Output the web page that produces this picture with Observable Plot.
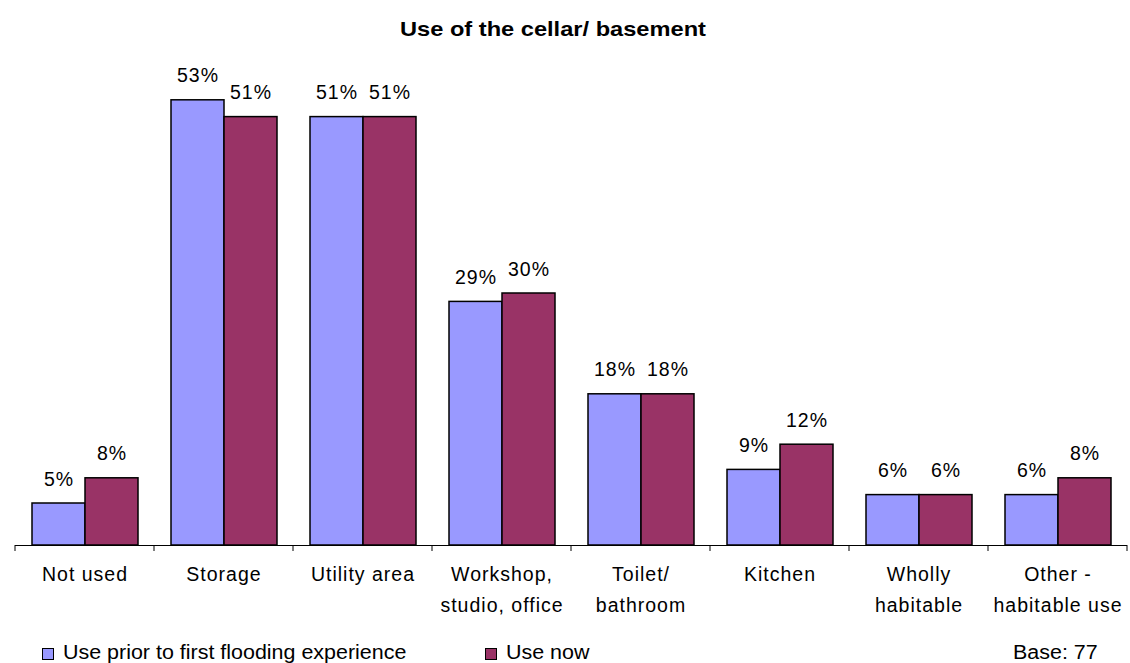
<!DOCTYPE html>
<html>
<head>
<meta charset="utf-8">
<script src="https://cdn.jsdelivr.net/npm/d3@7"></script>
<script src="https://cdn.jsdelivr.net/npm/@observablehq/plot@0.6"></script>
<style>
  html, body { margin: 0; padding: 0; background: #fff; }
  body { position: relative; width: 1130px; height: 663px; overflow: hidden; font-family: "Liberation Sans", Arial, sans-serif; color: #000; }
  #title { position: absolute; left: 0; top: 18px; width: 1106px; text-align: center; }
  #title span { display: inline-block; font-weight: bold; font-size: 21px; line-height: 21px; transform: scaleX(1.125); transform-origin: center; white-space: nowrap; }
  #chart { position: absolute; left: 0; top: 44px; }
  #chart svg { display: block; }
  .lg-sw { position: absolute; width: 10px; height: 10px; border: 1px solid #000; top: 648px; }
  .lg-tx { position: absolute; top: 643px; font-size: 19.5px; line-height: 19.5px; white-space: nowrap; transform: scaleX(1.1); transform-origin: left center; }
</style>
</head>
<body>
<div id="title"><span>Use of the cellar/ basement</span></div>
<div id="chart"></div>
<div id="legend"></div>
<script>
const categories = ["Not used", "Storage", "Utility area", "Workshop,\nstudio, office", "Toilet/\nbathroom", "Kitchen", "Wholly\nhabitable", "Other -\nhabitable use"];
const series = ["Use prior to first flooding experience", "Use now"];
const priorValues = [5, 53, 51, 29, 18, 9, 6, 6];
const nowValues = [8, 51, 51, 30, 18, 12, 6, 8];
const colors = ["#9999FF", "#993366"];
const baseNote = "Base: 77";

const data = [];
categories.forEach((c, i) => {
  data.push({category: c, series: series[0], value: priorValues[i]});
  data.push({category: c, series: series[1], value: nowValues[i]});
});

const plot = Plot.plot({
  width: 1130,
  height: 596,
  marginLeft: 12,
  marginRight: 0,
  marginTop: 39,
  marginBottom: 95,
  style: {fontFamily: "'Liberation Sans', Arial, sans-serif", color: "#000", background: "#fff", letterSpacing: "1px"},
  fx: {domain: categories, padding: 0, label: null},
  x: {domain: series, paddingInner: 0, paddingOuter: 0.3, axis: null},
  y: {domain: [0, 55], axis: null},
  color: {domain: series, range: colors},
  marks: [
    Plot.barY(data, {fx: "category", x: "series", y: "value", fill: "series", stroke: "#000", strokeWidth: 1.5}),
    Plot.text(data, {fx: "category", x: "series", y: "value", text: d => d.value + "%", lineAnchor: "bottom", dy: -18, fontSize: 19.5, fill: "#000"}),
    Plot.ruleY([0], {stroke: "#000", strokeWidth: 1}),
    Plot.axisFx({anchor: "bottom", tickSize: 0, tickPadding: 14, fontSize: 19.5, lineHeight: 1.56, label: null})
  ]
});
document.getElementById("chart").appendChild(plot);

// tick marks at category boundaries, positioned with Plot's own fx and y scales
const fxs = plot.scale("fx");
const ys = plot.scale("y");
const y0 = ys.apply(0);
const bounds = categories.map(c => fxs.apply(c));
bounds.push(fxs.apply(categories[categories.length - 1]) + fxs.bandwidth);
d3.select(plot).append("g")
  .attr("stroke", "#000")
  .selectAll("line")
  .data(bounds)
  .join("line")
  .attr("x1", d => d).attr("x2", d => d)
  .attr("y1", y0).attr("y2", y0 + 6);

// legend
const legend = d3.select("#legend");
const items = [
  {label: series[0], color: colors[0], sw: 42, tx: 63},
  {label: series[1], color: colors[1], sw: 485, tx: 506}
];
items.forEach(it => {
  legend.append("div").attr("class", "lg-sw").style("left", it.sw + "px").style("background", it.color);
  legend.append("div").attr("class", "lg-tx").style("left", it.tx + "px").text(it.label);
});
legend.append("div").attr("class", "lg-tx").style("left", "1013px").text(baseNote);
</script>
</body>
</html>
